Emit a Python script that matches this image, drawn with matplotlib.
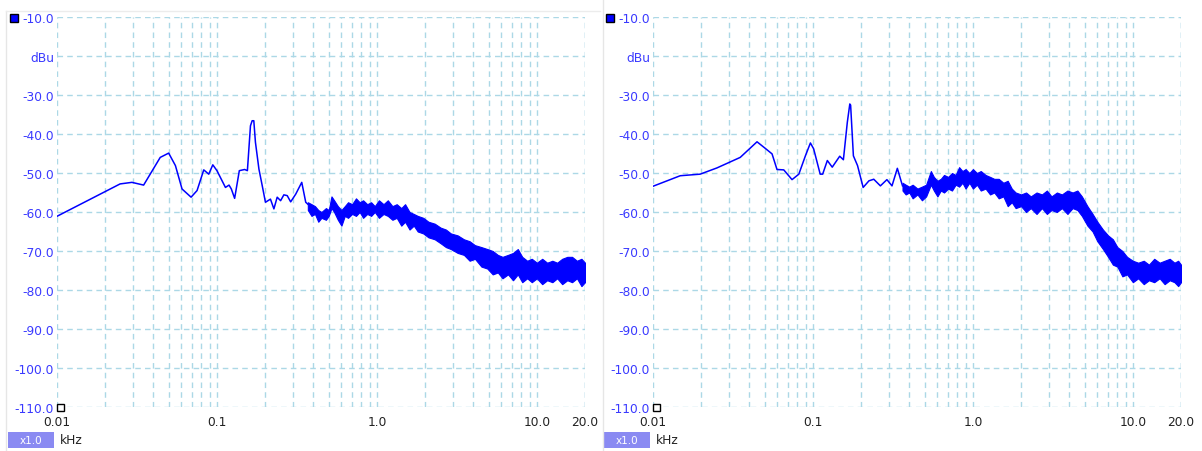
import numpy as np
import matplotlib
matplotlib.use("Agg")
import matplotlib.pyplot as plt
from matplotlib.patches import Rectangle
from matplotlib.lines import Line2D

# y axis (dBu) and x axis (kHz) labels
Y_TICKS = [-10, -20, -30, -40, -50, -60, -70, -80, -90, -100, -110]
X_TICKS = [0.01, 0.1, 1.0, 10.0, 20.0]
X_TICK_LABELS = ["0.01", "0.1", "1.0", "10.0", "20.0"]

# left trace: low frequency part (kHz, dBu)
left_f = [0.01, 0.0248, 0.0294, 0.0348, 0.0442, 0.0499, 0.055, 0.0605, 0.0689,
          0.0751, 0.0827, 0.0889, 0.0942, 0.1, 0.113, 0.119, 0.123, 0.129,
          0.138, 0.149, 0.155, 0.162, 0.166, 0.170, 0.174, 0.183, 0.192,
          0.201, 0.216, 0.227, 0.238, 0.250, 0.262, 0.275, 0.289, 0.311,
          0.339, 0.359, 0.37]
left_db = [-61.1, -52.8, -52.4, -53.1, -46.0, -44.9, -48.1, -54.1, -56.2,
           -54.5, -49.2, -50.3, -47.9, -49.4, -53.7, -53.1, -54.1, -56.5,
           -49.4, -49.1, -49.4, -37.9, -36.6, -36.6, -42.1, -49.0, -53.3,
           -57.5, -56.7, -59.2, -56.2, -57.1, -55.6, -55.8, -57.4, -55.4,
           -52.4, -57.5, -58.0]

# left trace: noisy part as lower / upper envelope
left_band_f = [0.37, 0.39, 0.41, 0.43, 0.45, 0.48, 0.50, 0.52, 0.54, 0.57,
               0.60, 0.63, 0.66, 0.70, 0.74, 0.78, 0.82, 0.87, 0.92, 0.97,
               1.03, 1.10, 1.17, 1.25, 1.33, 1.42, 1.50, 1.60, 1.70, 1.80,
               1.95, 2.1, 2.3, 2.5, 2.7, 2.9, 3.2, 3.5, 3.8, 4.1, 4.5, 4.9,
               5.3, 5.7, 6.1, 6.6, 7.1, 7.6, 8.1, 8.7, 9.3, 10.0, 10.8, 11.6,
               12.5, 13.4, 14.4, 15.5, 16.6, 17.8, 19.0, 20.0]
left_band_lo = [-59.5, -61.0, -60.5, -62.5, -61.5, -62.0, -61.0, -59.0, -60.0,
                -62.0, -63.5, -61.0, -61.5, -60.5, -61.0, -60.0, -61.5, -60.5,
                -61.0, -60.0, -61.5, -60.5, -61.0, -62.0, -61.5, -63.5, -62.5,
                -64.5, -63.5, -65.0, -65.5, -66.5, -67.0, -68.0, -69.0, -69.5,
                -70.5, -71.0, -72.5, -72.0, -74.0, -74.5, -76.0, -75.5, -77.0,
                -76.0, -77.5, -76.0, -78.0, -77.0, -78.0, -77.0, -78.5, -77.5,
                -78.0, -77.0, -78.5, -77.5, -78.0, -77.0, -79.0, -78.0]
left_band_hi = [-57.5, -58.0, -58.5, -59.5, -60.0, -59.0, -59.5, -56.0, -57.0,
                -58.5, -59.5, -58.5, -57.5, -58.0, -56.5, -57.5, -57.0, -58.0,
                -57.5, -58.5, -57.0, -58.0, -57.0, -58.5, -58.0, -59.0, -58.0,
                -60.0, -60.5, -61.0, -61.5, -62.5, -63.0, -64.0, -64.5, -65.5,
                -66.0, -67.0, -67.5, -68.5, -69.0, -69.5, -70.0, -71.0, -71.5,
                -71.0, -70.5, -69.5, -71.5, -72.5, -72.0, -73.0, -72.0, -73.0,
                -72.5, -73.0, -72.0, -71.5, -71.5, -72.5, -72.0, -73.0]

# right trace: low frequency part
right_f = [0.01, 0.0148, 0.0197, 0.0251, 0.0351, 0.0447, 0.0504, 0.0555,
           0.0596, 0.0657, 0.074, 0.0816, 0.0897, 0.0964, 0.101, 0.111,
           0.115, 0.123, 0.132, 0.147, 0.155, 0.164, 0.170, 0.172, 0.179,
           0.19, 0.206, 0.224, 0.24, 0.264, 0.29, 0.312, 0.337, 0.363]
right_db = [-53.4, -50.7, -50.3, -48.7, -46.0, -42.0, -43.7, -45.1, -49.1,
            -49.2, -51.7, -50.3, -45.6, -42.3, -43.8, -50.3, -50.3, -46.8,
            -48.5, -45.7, -46.6, -37.0, -32.3, -32.6, -45.6, -48.1, -53.7,
            -52.0, -51.6, -53.3, -51.7, -53.3, -48.8, -53.3]

# right trace: noisy part as lower / upper envelope
right_band_f = [0.363, 0.38, 0.40, 0.42, 0.45, 0.48, 0.51, 0.546, 0.57, 0.60,
                0.63, 0.66, 0.70, 0.74, 0.78, 0.82, 0.86, 0.90, 0.95, 1.00,
                1.06, 1.12, 1.20, 1.28, 1.36, 1.45, 1.55, 1.65, 1.75, 1.85,
                2.0, 2.15, 2.3, 2.5, 2.7, 2.9, 3.1, 3.35, 3.6, 3.9, 4.2, 4.5,
                4.8, 5.2, 5.6, 6.0, 6.5, 7.0, 7.5, 8.0, 8.6, 9.2, 10.0, 10.8,
                11.7, 12.6, 13.6, 14.7, 15.8, 17.0, 18.2, 19.2, 20.0]
right_band_lo = [-54.5, -55.5, -55.0, -56.5, -55.5, -57.0, -56.0, -53.0, -54.5,
                 -56.0, -54.5, -55.0, -54.0, -54.5, -53.0, -53.5, -52.5, -54.0,
                 -52.5, -54.0, -53.0, -54.5, -54.0, -55.5, -55.0, -56.5, -56.0,
                 -58.5, -57.5, -59.0, -58.5, -60.0, -59.0, -60.5, -59.0, -60.5,
                 -59.5, -60.0, -59.0, -60.5, -59.0, -59.5, -61.0, -63.5, -65.0,
                 -67.5, -69.5, -71.5, -73.5, -74.0, -76.5, -76.0, -78.0, -77.0,
                 -78.5, -77.5, -78.0, -77.0, -78.5, -77.5, -78.0, -79.0, -78.0]
right_band_hi = [-52.5, -53.0, -53.5, -53.0, -54.0, -53.5, -53.0, -49.5, -51.0,
                 -52.0, -51.5, -50.5, -51.0, -50.0, -50.5, -48.5, -49.5, -49.0,
                 -50.0, -49.0, -50.0, -49.5, -50.5, -51.0, -51.5, -51.5, -52.5,
                 -52.0, -54.0, -55.0, -55.5, -55.0, -56.0, -55.0, -55.5, -54.5,
                 -56.0, -55.0, -55.5, -54.5, -55.0, -54.5, -56.0, -58.5, -60.5,
                 -62.5, -64.5, -66.0, -67.0, -69.0, -70.0, -71.5, -72.5, -73.0,
                 -72.5, -73.5, -72.0, -73.0, -72.5, -72.0, -73.0, -72.5, -73.5]

TRACE = "#0000ff"
GRID = "#acd8e6"
YLAB = "#3a3aff"

fig = plt.figure(figsize=(12.02, 4.52), dpi=100)
fig.patch.set_facecolor("white")

# faint panel frame lines
fig.add_artist(Line2D([6 / 1202, 6 / 1202], [0, 1 - 12 / 452], color="#e6e6e6", lw=1))
fig.add_artist(Line2D([6 / 1202, 600 / 1202], [1 - 12 / 452, 1 - 12 / 452], color="#ececec", lw=1))
fig.add_artist(Line2D([603 / 1202, 603 / 1202], [0, 1], color="#e6e6e6", lw=1))


def draw_panel(left_px, f, db, bf, blo, bhi):
    ax = fig.add_axes([left_px / 1202, 1 - 408 / 452, 528 / 1202, 390 / 452])
    ax.set_xscale("log")
    ax.set_xlim(0.01, 20.0)
    ax.set_ylim(-110, -10)
    for s in ax.spines.values():
        s.set_visible(False)

    # grid: horizontal every 10 dB, vertical at 1..9 per decade plus 20
    for y in Y_TICKS:
        ax.axhline(y, color=GRID, lw=1, ls=(0, (4, 3)), zorder=1)
    vx = []
    for dec in [0.01, 0.1, 1.0, 10.0]:
        for m in range(1, 10):
            v = dec * m
            if v <= 20.0:
                vx.append(v)
    vx.append(20.0)
    for x in vx:
        ax.axvline(x, color=GRID, lw=1, ls=(0, (4, 3)), zorder=1)

    ax.plot(f, db, color=TRACE, lw=1.1, zorder=3)
    ax.fill_between(bf, blo, bhi, color=TRACE, lw=0.8, edgecolor=TRACE, zorder=3)

    ax.set_xticks(X_TICKS)
    ax.set_xticklabels(X_TICK_LABELS)
    ax.xaxis.set_minor_locator(matplotlib.ticker.NullLocator())
    ax.set_yticks(Y_TICKS)
    ax.set_yticklabels([f"{v:.1f}" if v != -20 else "dBu" for v in Y_TICKS])
    ax.tick_params(axis="both", length=0, labelsize=8.8)
    ax.tick_params(axis="y", pad=2, colors=YLAB)
    ax.tick_params(axis="x", pad=6, colors="#222222")

    # legend square (top) and origin square (bottom)
    fig.add_artist(Rectangle(((left_px - 47) / 1202, 1 - 23 / 452), 8 / 1202, 8 / 452,
                             facecolor="#0000ff", edgecolor="black", lw=1))
    fig.add_artist(Rectangle(((left_px + 0) / 1202, 1 - 412 / 452), 7 / 1202, 7 / 452,
                             facecolor="white", edgecolor="black", lw=1))

    # x1.0 zoom box and unit
    fig.add_artist(Rectangle(((left_px - 49) / 1202, 1 - 449 / 452), 46 / 1202, 16 / 452,
                             facecolor="#8a8af2", edgecolor="none"))
    fig.text((left_px - 26) / 1202, 1 - 441 / 452, "x1.0", color="white",
             fontsize=7.5, ha="center", va="center")
    fig.text((left_px + 3) / 1202, 1 - 441 / 452, "kHz", color="#222222",
             fontsize=8.8, ha="left", va="center")
    return ax


draw_panel(57, left_f, left_db, left_band_f, left_band_lo, left_band_hi)
draw_panel(653, right_f, right_db, right_band_f, right_band_lo, right_band_hi)

fig.savefig("out.png", dpi=100, facecolor="white")
